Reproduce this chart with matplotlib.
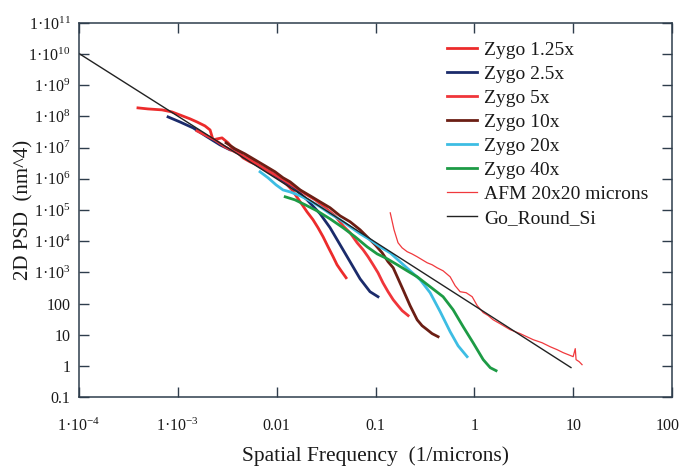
import matplotlib
matplotlib.use("Agg")
import matplotlib.pyplot as plt
import matplotlib.transforms as mtransforms
import numpy as np

plt.rcParams['font.family'] = ['Liberation Serif', 'DejaVu Serif']
plt.rcParams['mathtext.fontset'] = 'custom'
plt.rcParams['mathtext.rm'] = 'Liberation Serif'
plt.rcParams['mathtext.it'] = 'Liberation Serif:italic'
plt.rcParams['mathtext.bf'] = 'Liberation Serif:bold'

# ---- data ----
z125_f = [3.95e-4, 4.99e-4, 6.92e-4, 8.73e-4, 1.05e-3, 1.33e-3, 1.56e-3, 1.88e-3, 2.12e-3, 2.27e-3,
          2.49e-3, 2.80e-3, 3.22e-3, 3.62e-3, 4.06e-3, 4.57e-3, 5.38e-3, 6.34e-3, 7.64e-3, 9.64e-3,
          1.22e-2, 1.43e-2, 1.73e-2, 2.03e-2, 2.33e-2, 2.62e-2, 2.95e-2, 3.31e-2, 3.72e-2, 4.08e-2,
          4.49e-2, 5.04e-2]
z125_p = [1.89e8, 1.75e8, 1.63e8, 1.40e8, 1.12e8, 8.4e7, 6.7e7, 5.0e7, 3.7e7, 1.78e7,
          1.91e7, 2.06e7, 1.43e7, 9.2e6, 6.8e6, 4.7e6, 3.5e6, 2.8e6, 1.94e6, 1.25e6,
          7.4e5, 4.4e5, 1.83e5, 8.7e4, 4.9e4, 2.7e4, 1.38e4, 6.6e3, 3.2e3, 1.75e3,
          1.12e3, 6.7e2]

z25_f = [7.96e-4, 1.05e-3, 1.43e-3, 1.98e-3, 2.67e-3, 3.38e-3, 4.06e-3, 4.57e-3, 5.38e-3, 6.34e-3,
         8.0e-3, 1.01e-2, 1.47e-2, 2.03e-2, 2.75e-2, 3.47e-2, 4.38e-2, 5.53e-2, 6.98e-2, 8.8e-2, 1.06e-1]
z25_p = [9.7e7, 6.7e7, 4.3e7, 2.22e7, 1.23e7, 8.5e6, 7.9e6, 5.1e6, 4.7e6, 2.8e6,
         1.94e6, 1.16e6, 5.5e5, 2.12e5, 7.6e4, 2.7e4, 7.7e3, 2.19e3, 6.2e2, 2.39e2, 1.65e2]

z5_f = [1.56e-3, 1.88e-3, 2.37e-3, 3.00e-3, 3.79e-3, 4.78e-3, 6.04e-3, 7.64e-3, 9.64e-3, 1.22e-2,
        1.53e-2, 1.94e-2, 2.45e-2, 3.09e-2, 3.90e-2, 4.70e-2, 5.53e-2, 6.52e-2, 7.49e-2, 8.41e-2,
        9.46e-2, 1.06e-1, 1.19e-1, 1.34e-1, 1.51e-1, 1.69e-1, 1.86e-1, 2.14e-1]
z5_p = [3.45e7, 2.57e7, 1.78e7, 1.06e7, 7.3e6, 5.1e6, 3.26e6, 2.09e6, 1.34e6, 8.6e5,
        5.5e5, 3.3e5, 2.12e5, 1.18e5, 6.5e4, 3.1e4, 1.86e4, 8.9e3, 5.3e3, 3.16e3,
        1.75e3, 9.7e2, 4.6e2, 2.39e2, 1.32e2, 85, 59, 41]

z10_f = [3.08e-3, 3.79e-3, 4.78e-3, 6.04e-3, 7.64e-3, 9.64e-3, 1.16e-2, 1.37e-2, 1.73e-2, 2.18e-2,
         2.75e-2, 3.47e-2, 4.38e-2, 5.53e-2, 6.98e-2, 8.41e-2, 9.9e-2, 1.17e-1, 1.34e-1, 1.51e-1,
         1.66e-1, 1.90e-1, 2.24e-1, 2.64e-1, 2.96e-1, 3.33e-1, 3.74e-1, 4.30e-1]
z10_p = [1.43e7, 9.2e6, 6.3e6, 4.06e6, 2.61e6, 1.68e6, 1.08e6, 8.0e5, 4.4e5, 2.85e5,
         1.83e5, 1.18e5, 6.5e4, 4.2e4, 2.32e4, 1.29e4, 7.7e3, 4.2e3, 2.19e3, 1.40e3,
         7.2e2, 2.77e2, 85, 30, 19.4, 14.5, 10.8, 8.6]

z20_f = [6.79e-3, 8.18e-3, 9.86e-3, 1.16e-2, 1.37e-2, 1.73e-2, 2.18e-2, 2.75e-2, 3.47e-2, 4.38e-2,
         5.53e-2, 6.98e-2, 8.81e-2, 1.11e-1, 1.41e-1, 1.77e-1, 2.24e-1, 2.83e-1, 3.57e-1, 4.51e-1,
         5.69e-1, 6.85e-1, 8.45e-1]
z20_p = [1.68e6, 1.08e6, 6.4e5, 4.4e5, 3.8e5, 2.85e5, 1.97e5, 1.27e5, 7.6e4, 4.9e4,
         2.9e4, 1.73e4, 1.11e4, 6.6e3, 4.2e3, 2.19e3, 1.12e3, 5.8e2, 2.22e2, 55,
         12.5, 4.4, 1.97]

z40_f = [1.22e-2, 1.53e-2, 1.94e-2, 2.56e-2, 3.47e-2, 4.70e-2, 6.22e-2, 8.22e-2, 1.04e-1, 1.31e-1,
         1.66e-1, 2.09e-1, 2.64e-1, 3.57e-1, 4.83e-1, 6.10e-1, 7.71e-1, 9.72e-1, 1.23, 1.45, 1.66]
z40_p = [2.65e5, 2.12e5, 1.47e5, 9.4e4, 5.2e4, 2.69e4, 1.38e4, 6.6e3, 3.9e3, 2.73e3,
         1.75e3, 1.12e3, 7.2e2, 3.45e2, 1.65e2, 63, 18, 5.5, 1.58, 0.87, 0.70]

afm_f = [0.141, 0.154, 0.169, 0.186, 0.209, 0.234, 0.264, 0.296, 0.333, 0.374,
         0.420, 0.483, 0.569, 0.640, 0.718, 0.826, 0.951, 1.07, 1.23, 1.38,
         1.55, 1.82, 2.30, 2.91, 3.94, 4.85, 5.85, 6.88, 7.92, 8.89,
         10.0, 10.5, 10.7, 11.5, 12.3]
afm_p = [8.1e4, 2.32e4, 8.9e3, 6.1e3, 4.6e3, 3.9e3, 3.16e3, 2.54e3, 2.03e3, 1.75e3,
         1.40e3, 1.12e3, 7.2e2, 3.7e2, 2.39e2, 2.22e2, 1.65e2, 85, 51, 41,
         30, 22.5, 14.5, 10.8, 6.9, 5.5, 4.1, 3.3, 2.65, 2.29,
         1.97, 3.56, 1.58, 1.36, 1.09]

gr_f = [1e-4, 1e-2, 9.5]
gr_p = [1.05e10, 1.0e6, 0.88]

series = [
    ("Zygo 1.25x", z125_f, z125_p, "#ec2b2b", 2.0),
    ("Zygo 2.5x", z25_f, z25_p, "#1b2b6b", 2.0),
    ("Zygo 5x", z5_f, z5_p, "#f0353a", 2.0),
    ("Zygo 10x", z10_f, z10_p, "#6b1e14", 2.0),
    ("Zygo 20x", z20_f, z20_p, "#3dbde3", 2.0),
    ("Zygo 40x", z40_f, z40_p, "#1d9b45", 2.0),
    ("AFM 20x20 microns", afm_f, afm_p, "#f0393d", 0.9),
    ("Go_Round_Si", gr_f, gr_p, "#222222", 1.0),
]

xticks = [1e-4, 1e-3, 1e-2, 1e-1, 1, 10, 100]
xticklabels = ["1·$10^{-4}$", "1·$10^{-3}$", "0.01", "0.1", "1", "10", "100"]
yticks = [10.0 ** k for k in range(-1, 12)]
yticklabels = ["0.1", "1", "10", "100"] + ["1·$10^{%d}$" % k for k in range(3, 12)]

fig = plt.figure(figsize=(6.8, 4.68), dpi=100)
ax = fig.add_axes([79 / 680, 1 - 397 / 468, (672 - 79) / 680, (397 - 23) / 468])

for name, f, p, c, lw in series:
    ax.plot(f, p, color=c, lw=lw, label=name, solid_joinstyle='round')

ax.set_xscale('log')
ax.set_yscale('log')
ax.set_xlim(1e-4, 100)
ax.set_ylim(0.1, 1e11)
ax.set_xticks(xticks)
ax.set_xticklabels(xticklabels)
ax.set_yticks(yticks)
ax.set_yticklabels(yticklabels)
ax.minorticks_off()

frame_c = "#2e3d4c"
for s in ax.spines.values():
    s.set_color(frame_c)
    s.set_linewidth(1.1)
ax.tick_params(which='major', direction='in', length=7, width=1.0, color=frame_c,
               top=True, right=True, labelsize=11.5, labelcolor="#1a1a1a")
ax.tick_params(axis='x', pad=15)
ax.tick_params(axis='y', pad=6)

# keep the last x label inside the canvas
last = ax.get_xticklabels()[-1]
last.set_transform(last.get_transform() + mtransforms.ScaledTranslation(-4 / 100, 0, fig.dpi_scale_trans))

ax.set_xlabel("Spatial Frequency  (1/microns)", fontsize=15.5, color="#1a1a1a")
ax.set_ylabel("2D PSD  (nm^4)", fontsize=15, color="#1a1a1a")
ax.xaxis.set_label_coords(0.5, (397 - 456) / 374)
ax.xaxis.label.set_va('center')
ax.yaxis.set_label_coords((24 - 79) / 593, 0.5)
ax.yaxis.label.set_va('center')

leg = fig.legend(loc='upper left', bbox_to_anchor=(447 / 680, 1 - 41 / 468),
                 frameon=False, fontsize=14, handlelength=1.55, handletextpad=0.36,
                 labelspacing=0.33, borderpad=0, borderaxespad=0)
for t in leg.get_texts():
    t.set_color("#1a1a1a")

fig.savefig("out.png", dpi=100)
